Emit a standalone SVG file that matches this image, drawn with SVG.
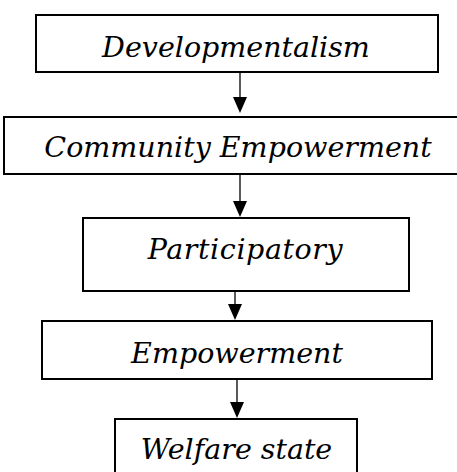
<svg xmlns="http://www.w3.org/2000/svg" width="457" height="472" viewBox="0 0 457 472">
<style>
rect.box{fill:#fff;stroke:#000;stroke-width:2}
.conn path.l{stroke:#000;stroke-width:1.3;fill:none}
.conn path.h{fill:#000}
</style>
<rect width="457" height="472" fill="#fff"/>
<g class="conn">
<path class="l" d="M240,73 L240,97"/><path class="h" d="M233,97 L247,97 L240,113 Z"/>
<path class="l" d="M240,175 L240,201"/><path class="h" d="M233,201 L247,201 L240,217 Z"/>
<path class="l" d="M235,292 L235,304"/><path class="h" d="M228,304 L242,304 L235,320 Z"/>
<path class="l" d="M237,380 L237,402"/><path class="h" d="M230,402 L244,402 L237,418 Z"/>
</g>
<g font-family="DejaVu Serif" font-style="italic" font-size="28.5" fill="#000" text-anchor="middle">
<g id="n1"><rect class="box" x="36" y="15" width="402" height="57"/><text x="236" y="57">Developmentalism</text></g>
<g id="n2"><rect class="box" x="4" y="117" width="462" height="57"/><text x="238" y="157">Community Empowerment</text></g>
<g id="n3"><rect class="box" x="83" y="218" width="326" height="73"/><text x="245.5" y="259" letter-spacing="0.6">Participatory</text></g>
<g id="n4"><rect class="box" x="42" y="321" width="390" height="58"/><text x="237" y="363">Empowerment</text></g>
<g id="n5"><rect class="box" x="115" y="419" width="242" height="62"/><text x="236.5" y="459">Welfare state</text></g>
</g>
</svg>
